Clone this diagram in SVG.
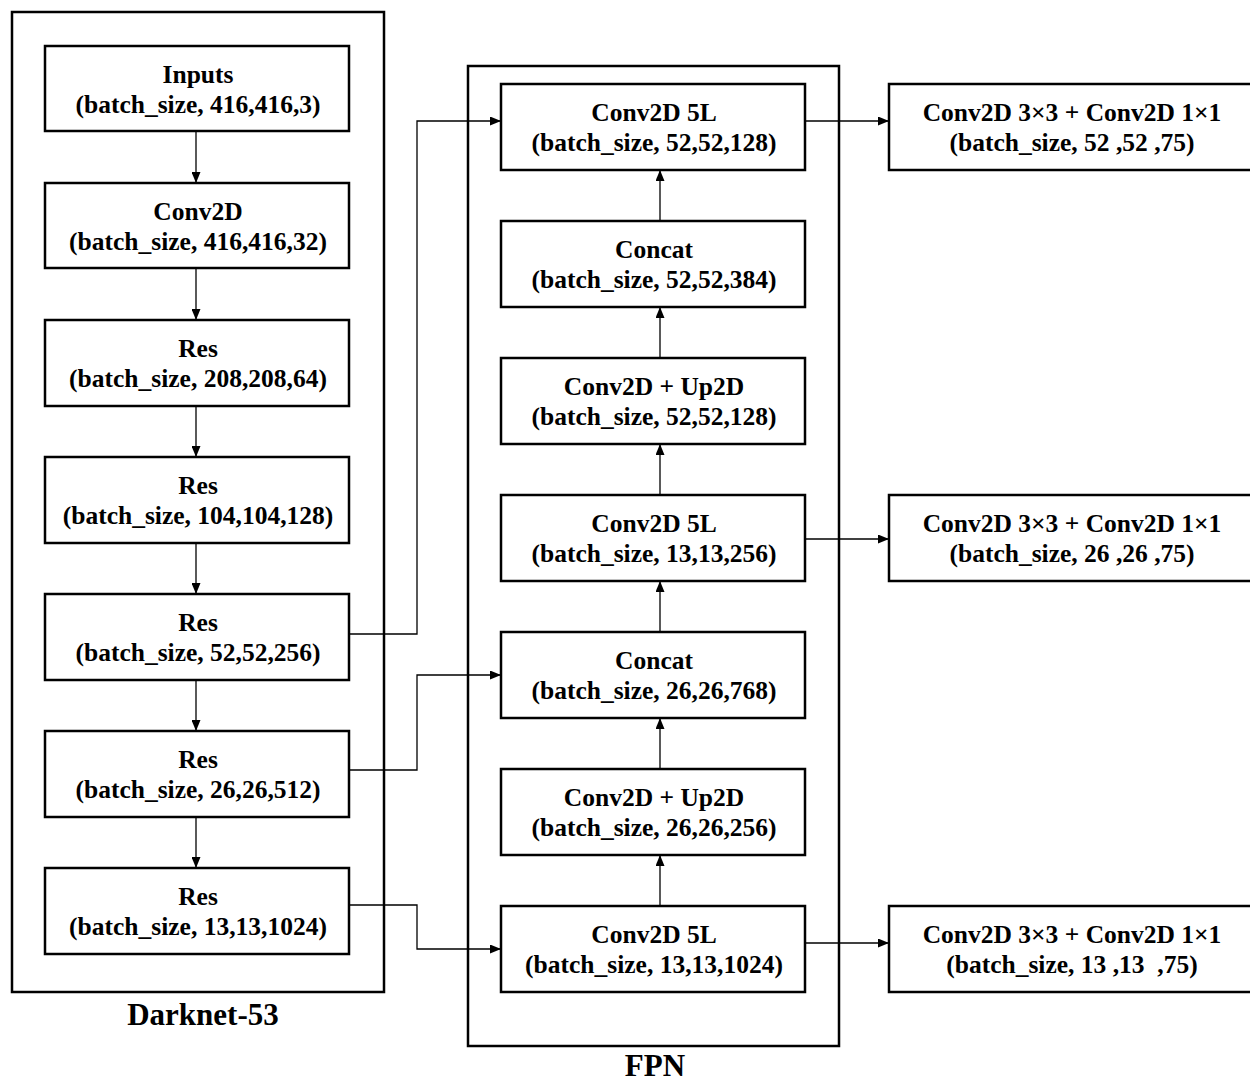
<svg xmlns="http://www.w3.org/2000/svg" width="1250" height="1083" viewBox="0 0 1250 1083">
  <style>
    .frame { fill: none; stroke: #000; stroke-width: 2.5; }
    .box { fill: #fff; stroke: #000; stroke-width: 2.5; }
    .lbl { font-family: "Liberation Serif", "Times New Roman", serif; font-weight: bold; font-size: 25.5px; text-anchor: middle; fill: #000; }
    .title { font-family: "Liberation Serif", "Times New Roman", serif; font-weight: bold; font-size: 31px; text-anchor: middle; fill: #000; }
    .link { fill: none; stroke: #000; stroke-width: 1.3; }
  </style>
  <defs>
    <marker id="arrow" viewBox="0 0 11 9" refX="11" refY="4.5" markerWidth="11" markerHeight="9" markerUnits="userSpaceOnUse" orient="auto">
      <path d="M0,0 L11,4.5 L0,9 Z" fill="#000"/>
    </marker>
  </defs>
  <rect width="1250" height="1083" fill="#fff"/>

  <!-- backbone and neck frames -->
  <g id="darknet-frame">
    <rect class="frame" x="12" y="12" width="372" height="980"/>
    <text class="title" x="203" y="1025">Darknet-53</text>
  </g>
  <g id="fpn-frame">
    <rect class="frame" x="468" y="66" width="371" height="980"/>
    <text class="title" x="655" y="1076">FPN</text>
  </g>

  <!-- connectors -->
  <g id="connectors">
    <!-- backbone chain -->
    <line class="link" x1="196" y1="131" x2="196" y2="183" marker-end="url(#arrow)"/>
    <line class="link" x1="196" y1="268" x2="196" y2="320" marker-end="url(#arrow)"/>
    <line class="link" x1="196" y1="406" x2="196" y2="457" marker-end="url(#arrow)"/>
    <line class="link" x1="196" y1="543" x2="196" y2="594" marker-end="url(#arrow)"/>
    <line class="link" x1="196" y1="680" x2="196" y2="731" marker-end="url(#arrow)"/>
    <line class="link" x1="196" y1="817" x2="196" y2="868" marker-end="url(#arrow)"/>
    <!-- skip links into the FPN -->
    <polyline class="link" points="349,634 417,634 417,121 501,121" marker-end="url(#arrow)"/>
    <polyline class="link" points="349,770 417,770 417,675 501,675" marker-end="url(#arrow)"/>
    <polyline class="link" points="349,905 417,905 417,949 501,949" marker-end="url(#arrow)"/>
    <!-- FPN upward chain -->
    <line class="link" x1="660" y1="906" x2="660" y2="855" marker-end="url(#arrow)"/>
    <line class="link" x1="660" y1="769" x2="660" y2="718" marker-end="url(#arrow)"/>
    <line class="link" x1="660" y1="632" x2="660" y2="581" marker-end="url(#arrow)"/>
    <line class="link" x1="660" y1="495" x2="660" y2="444" marker-end="url(#arrow)"/>
    <line class="link" x1="660" y1="358" x2="660" y2="307" marker-end="url(#arrow)"/>
    <line class="link" x1="660" y1="221" x2="660" y2="170" marker-end="url(#arrow)"/>
    <!-- heads -->
    <line class="link" x1="805" y1="121" x2="889" y2="121" marker-end="url(#arrow)"/>
    <line class="link" x1="805" y1="539" x2="889" y2="539" marker-end="url(#arrow)"/>
    <line class="link" x1="805" y1="943" x2="889" y2="943" marker-end="url(#arrow)"/>
  </g>

  <!-- backbone nodes -->
  <g id="inputs">
    <rect class="box" x="45" y="46" width="304" height="85"/>
    <text class="lbl" x="198" y="83">Inputs</text>
    <text class="lbl" x="198" y="113">(batch_size, 416,416,3)</text>
  </g>
  <g id="conv2d">
    <rect class="box" x="45" y="183" width="304" height="85"/>
    <text class="lbl" x="198" y="220">Conv2D</text>
    <text class="lbl" x="198" y="250">(batch_size, 416,416,32)</text>
  </g>
  <g id="res1">
    <rect class="box" x="45" y="320" width="304" height="86"/>
    <text class="lbl" x="198" y="357">Res</text>
    <text class="lbl" x="198" y="387">(batch_size, 208,208,64)</text>
  </g>
  <g id="res2">
    <rect class="box" x="45" y="457" width="304" height="86"/>
    <text class="lbl" x="198" y="494">Res</text>
    <text class="lbl" x="198" y="524">(batch_size, 104,104,128)</text>
  </g>
  <g id="res3">
    <rect class="box" x="45" y="594" width="304" height="86"/>
    <text class="lbl" x="198" y="631">Res</text>
    <text class="lbl" x="198" y="661">(batch_size, 52,52,256)</text>
  </g>
  <g id="res4">
    <rect class="box" x="45" y="731" width="304" height="86"/>
    <text class="lbl" x="198" y="768">Res</text>
    <text class="lbl" x="198" y="798">(batch_size, 26,26,512)</text>
  </g>
  <g id="res5">
    <rect class="box" x="45" y="868" width="304" height="86"/>
    <text class="lbl" x="198" y="905">Res</text>
    <text class="lbl" x="198" y="935">(batch_size, 13,13,1024)</text>
  </g>

  <!-- FPN nodes -->
  <g id="fpn-conv5l-52">
    <rect class="box" x="501" y="84" width="304" height="86"/>
    <text class="lbl" x="654" y="121">Conv2D 5L</text>
    <text class="lbl" x="654" y="151">(batch_size, 52,52,128)</text>
  </g>
  <g id="fpn-concat-52">
    <rect class="box" x="501" y="221" width="304" height="86"/>
    <text class="lbl" x="654" y="258">Concat</text>
    <text class="lbl" x="654" y="288">(batch_size, 52,52,384)</text>
  </g>
  <g id="fpn-up-52">
    <rect class="box" x="501" y="358" width="304" height="86"/>
    <text class="lbl" x="654" y="395">Conv2D + Up2D</text>
    <text class="lbl" x="654" y="425">(batch_size, 52,52,128)</text>
  </g>
  <g id="fpn-conv5l-26">
    <rect class="box" x="501" y="495" width="304" height="86"/>
    <text class="lbl" x="654" y="532">Conv2D 5L</text>
    <text class="lbl" x="654" y="562">(batch_size, 13,13,256)</text>
  </g>
  <g id="fpn-concat-26">
    <rect class="box" x="501" y="632" width="304" height="86"/>
    <text class="lbl" x="654" y="669">Concat</text>
    <text class="lbl" x="654" y="699">(batch_size, 26,26,768)</text>
  </g>
  <g id="fpn-up-26">
    <rect class="box" x="501" y="769" width="304" height="86"/>
    <text class="lbl" x="654" y="806">Conv2D + Up2D</text>
    <text class="lbl" x="654" y="836">(batch_size, 26,26,256)</text>
  </g>
  <g id="fpn-conv5l-13">
    <rect class="box" x="501" y="906" width="304" height="86"/>
    <text class="lbl" x="654" y="943">Conv2D 5L</text>
    <text class="lbl" x="654" y="973">(batch_size, 13,13,1024)</text>
  </g>

  <!-- detection heads -->
  <g id="head-52">
    <rect class="box" x="889" y="84" width="370" height="86"/>
    <text class="lbl" x="1072" y="121">Conv2D 3×3 + Conv2D 1×1</text>
    <text class="lbl" x="1072" y="151">(batch_size, 52 ,52 ,75)</text>
  </g>
  <g id="head-26">
    <rect class="box" x="889" y="495" width="370" height="86"/>
    <text class="lbl" x="1072" y="532">Conv2D 3×3 + Conv2D 1×1</text>
    <text class="lbl" x="1072" y="562">(batch_size, 26 ,26 ,75)</text>
  </g>
  <g id="head-13">
    <rect class="box" x="889" y="906" width="370" height="86"/>
    <text class="lbl" x="1072" y="943">Conv2D 3×3 + Conv2D 1×1</text>
    <text class="lbl" x="1072" y="973" xml:space="preserve">(batch_size, 13 ,13  ,75)</text>
  </g>
</svg>
